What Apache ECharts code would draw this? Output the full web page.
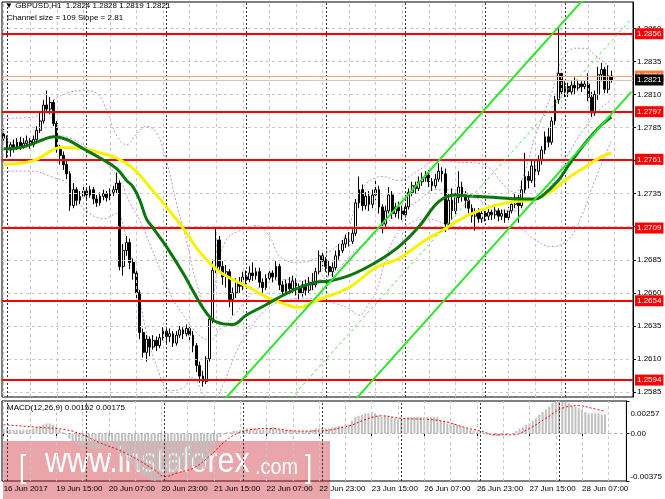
<!DOCTYPE html>
<html><head><meta charset="utf-8">
<script src="https://cdn.jsdelivr.net/npm/echarts@6/dist/echarts.min.js"></script>
<style>html,body{margin:0;padding:0;background:#fff}#c{width:665px;height:499px}</style>
</head><body><div id="c"></div>
<script>
// ---------- DATA ----------
const tickLabels = ['16 Jun 2017','19 Jun 15:00','20 Jun 07:00','20 Jun 23:00','21 Jun 15:00','22 Jun 07:00','22 Jun 23:00','23 Jun 15:00','26 Jun 07:00','26 Jun 23:00','27 Jun 15:00','28 Jun 07:00'];
const barsPerLabel = 16;
const daySeparators = [1,25,49,73,97,121,145,169];
const priceTicks = [1.2585,1.2610,1.2635,1.2660,1.2685,1.2710,1.2735,1.2760,1.2785,1.2810,1.2835,1.2860];
const levels = [1.2856,1.2797,1.2761,1.2709,1.2654,1.2594];
const askPrice = 1.2824, bidPrice = 1.2821;
const macdTicks = [0.00257, 0, -0.00375];
const macdTickLabels = ['0.00257','0.00','-0.00375'];

const opens = [
1.2780,1.2777,1.2768,1.2772,1.2770,1.2774,1.2771,1.2773,1.2775,1.2772,
1.2776,1.2783,1.2790,1.2802,1.2799,1.2804,1.2788,1.2769,1.2764,1.2757,
1.2750,1.2726,1.2738,1.2730,1.2733,1.2737,1.2734,1.2738,1.2731,1.2728,
1.2733,1.2735,1.2732,1.2736,1.2738,1.2743,1.2680,1.2692,1.2698,1.2683,
1.2675,1.2660,1.2630,1.2615,1.2625,1.2619,1.2624,1.2620,1.2626,1.2631,
1.2627,1.2629,1.2622,1.2628,1.2632,1.2629,1.2633,1.2628,1.2620,1.2605,
1.2597,1.2593,1.2610,1.2640,1.2677,1.2700,1.2680,1.2672,1.2676,1.2655,
1.2660,1.2668,1.2665,1.2672,1.2670,1.2675,1.2673,1.2676,1.2668,1.2664,
1.2671,1.2675,1.2672,1.2680,1.2666,1.2661,1.2667,1.2663,1.2669,1.2664,
1.2660,1.2666,1.2662,1.2668,1.2666,1.2676,1.2688,1.2684,1.2680,1.2676,
1.2679,1.2688,1.2692,1.2697,1.2701,1.2699,1.2705,1.2728,1.2738,1.2726,
1.2733,1.2727,1.2734,1.2738,1.2725,1.2712,1.2722,1.2734,1.2720,1.2725,
1.2722,1.2719,1.2725,1.2736,1.2741,1.2739,1.2744,1.2747,1.2749,1.2744,
1.2741,1.2746,1.2752,1.2750,1.2712,1.2730,1.2722,1.2732,1.2740,1.2733,
1.2730,1.2724,1.2718,1.2721,1.2716,1.2720,1.2718,1.2721,1.2719,1.2722,
1.2718,1.2720,1.2717,1.2722,1.2727,1.2732,1.2726,1.2738,1.2748,1.2745,
1.2756,1.2752,1.2760,1.2768,1.2778,1.2774,1.2790,1.2806,1.2826,1.2812,
1.2816,1.2812,1.2817,1.2815,1.2818,1.2816,1.2818,1.2808,1.2796,1.2810,
1.2825,1.2829,1.2814,1.2824];
const closes = [
1.2777,1.2768,1.2772,1.2770,1.2774,1.2771,1.2773,1.2775,1.2772,1.2776,
1.2783,1.2790,1.2802,1.2799,1.2804,1.2788,1.2769,1.2764,1.2757,1.2750,
1.2726,1.2738,1.2730,1.2733,1.2737,1.2734,1.2738,1.2731,1.2728,1.2733,
1.2735,1.2732,1.2736,1.2738,1.2743,1.2680,1.2692,1.2698,1.2683,1.2675,
1.2660,1.2630,1.2615,1.2625,1.2619,1.2624,1.2620,1.2626,1.2631,1.2627,
1.2629,1.2622,1.2628,1.2632,1.2629,1.2633,1.2628,1.2620,1.2605,1.2597,
1.2593,1.2610,1.2640,1.2677,1.2700,1.2680,1.2672,1.2676,1.2655,1.2660,
1.2668,1.2665,1.2672,1.2670,1.2675,1.2673,1.2676,1.2668,1.2664,1.2671,
1.2675,1.2672,1.2680,1.2666,1.2661,1.2667,1.2663,1.2669,1.2664,1.2660,
1.2666,1.2662,1.2668,1.2666,1.2676,1.2688,1.2684,1.2680,1.2676,1.2679,
1.2688,1.2692,1.2697,1.2701,1.2699,1.2705,1.2728,1.2738,1.2726,1.2733,
1.2727,1.2734,1.2738,1.2725,1.2712,1.2722,1.2734,1.2720,1.2725,1.2722,
1.2719,1.2725,1.2736,1.2741,1.2739,1.2744,1.2747,1.2749,1.2744,1.2741,
1.2746,1.2752,1.2750,1.2712,1.2730,1.2722,1.2732,1.2740,1.2733,1.2730,
1.2724,1.2718,1.2721,1.2716,1.2720,1.2718,1.2721,1.2719,1.2722,1.2718,
1.2720,1.2717,1.2722,1.2727,1.2732,1.2726,1.2738,1.2748,1.2745,1.2756,
1.2752,1.2760,1.2768,1.2778,1.2774,1.2790,1.2806,1.2826,1.2812,1.2816,
1.2812,1.2817,1.2815,1.2818,1.2816,1.2818,1.2808,1.2796,1.2810,1.2825,
1.2829,1.2814,1.2824,1.2821];
const lows = [
1.2775,1.2762,1.2763,1.2766,1.2768,1.2768,1.2769,1.2770,1.2769,1.2770,
1.2774,1.2781,1.2788,1.2796,1.2795,1.2786,1.2766,1.2757,1.2753,1.2746,
1.2722,1.2724,1.2726,1.2727,1.2731,1.2730,1.2732,1.2727,1.2725,1.2726,
1.2730,1.2729,1.2730,1.2733,1.2735,1.2677,1.2673,1.2688,1.2678,1.2670,
1.2655,1.2625,1.2611,1.2608,1.2612,1.2617,1.2616,1.2618,1.2624,1.2622,
1.2623,1.2619,1.2620,1.2626,1.2625,1.2627,1.2624,1.2615,1.2600,1.2592,
1.2589,1.2591,1.2608,1.2637,1.2675,1.2676,1.2666,1.2664,1.2649,1.2643,
1.2656,1.2660,1.2662,1.2666,1.2668,1.2669,1.2670,1.2664,1.2660,1.2662,
1.2668,1.2668,1.2670,1.2662,1.2657,1.2659,1.2659,1.2660,1.2658,1.2655,
1.2657,1.2658,1.2659,1.2662,1.2664,1.2674,1.2680,1.2676,1.2673,1.2672,
1.2677,1.2685,1.2690,1.2694,1.2695,1.2697,1.2703,1.2724,1.2722,1.2723,
1.2722,1.2724,1.2730,1.2720,1.2705,1.2710,1.2720,1.2716,1.2717,1.2716,
1.2715,1.2717,1.2723,1.2733,1.2735,1.2737,1.2741,1.2744,1.2740,1.2737,
1.2739,1.2744,1.2744,1.2706,1.2708,1.2715,1.2718,1.2728,1.2729,1.2724,
1.2720,1.2713,1.2707,1.2713,1.2713,1.2714,1.2715,1.2715,1.2716,1.2714,
1.2715,1.2713,1.2715,1.2720,1.2724,1.2713,1.2724,1.2735,1.2739,1.2743,
1.2740,1.2749,1.2757,1.2765,1.2770,1.2772,1.2787,1.2803,1.2808,1.2808,
1.2808,1.2810,1.2810,1.2813,1.2812,1.2814,1.2805,1.2793,1.2794,1.2806,
1.2820,1.2811,1.2811,1.2819];
const highs = [
1.2784,1.2779,1.2774,1.2776,1.2777,1.2778,1.2777,1.2779,1.2777,1.2779,
1.2786,1.2796,1.2806,1.2813,1.2808,1.2806,1.2790,1.2772,1.2767,1.2760,
1.2752,1.2743,1.2740,1.2737,1.2740,1.2739,1.2741,1.2740,1.2734,1.2736,
1.2738,1.2737,1.2739,1.2741,1.2751,1.2745,1.2697,1.2703,1.2701,1.2686,
1.2678,1.2662,1.2633,1.2628,1.2627,1.2628,1.2627,1.2629,1.2634,1.2634,
1.2633,1.2631,1.2631,1.2635,1.2634,1.2636,1.2635,1.2631,1.2622,1.2608,
1.2601,1.2612,1.2643,1.2685,1.2709,1.2703,1.2684,1.2681,1.2678,1.2664,
1.2671,1.2672,1.2676,1.2677,1.2680,1.2683,1.2679,1.2679,1.2671,1.2674,
1.2678,1.2677,1.2684,1.2682,1.2669,1.2670,1.2672,1.2673,1.2671,1.2667,
1.2669,1.2670,1.2672,1.2675,1.2679,1.2692,1.2691,1.2687,1.2684,1.2683,
1.2692,1.2697,1.2700,1.2704,1.2706,1.2708,1.2731,1.2748,1.2742,1.2736,
1.2737,1.2738,1.2745,1.2741,1.2727,1.2726,1.2740,1.2737,1.2728,1.2729,
1.2726,1.2728,1.2739,1.2744,1.2744,1.2748,1.2751,1.2752,1.2753,1.2747,
1.2750,1.2758,1.2755,1.2754,1.2735,1.2739,1.2736,1.2752,1.2744,1.2737,
1.2733,1.2727,1.2724,1.2724,1.2723,1.2722,1.2724,1.2723,1.2725,1.2724,
1.2723,1.2723,1.2725,1.2729,1.2735,1.2734,1.2745,1.2766,1.2752,1.2760,
1.2761,1.2764,1.2771,1.2782,1.2785,1.2793,1.2809,1.2860,1.2829,1.2820,
1.2819,1.2820,1.2823,1.2821,1.2820,1.2821,1.2826,1.2812,1.2813,1.2831,
1.2834,1.2831,1.2832,1.2828];

// moving averages and bands: [bar index, price]
const maGreen = [[0,1.2769],[5,1.2770],[9,1.2773],[12,1.2776],[15,1.2778],[19,1.2776],[24,1.2769],[29,1.2762],[34,1.2754],[37,1.2745],[39,1.2740],[41,1.2730],[43,1.2716],[45,1.2709],[49,1.2695],[54,1.2675],[58,1.2657],[61,1.2645],[64,1.2638],[69,1.2636],[73,1.2643],[79,1.2651],[84,1.2658],[89,1.2664],[94,1.2668],[98,1.2669],[104,1.2673],[112,1.2683],[119,1.2695],[125,1.2710],[131,1.2729],[136,1.2734],[141,1.2733],[149,1.2732],[155,1.2731],[160,1.2731],[162,1.2733],[167,1.2745],[170,1.2756],[175,1.2773],[180,1.2787],[183,1.2793]];
const maYellow = [[0,1.2757],[9,1.2760],[14,1.2767],[17,1.2770],[24,1.2769],[29,1.2766],[34,1.2762],[39,1.2754],[44,1.2740],[49,1.2725],[54,1.2709],[59,1.2691],[64,1.2678],[69,1.2670],[74,1.2664],[79,1.2657],[84,1.2652],[89,1.2649],[94,1.2654],[104,1.2664],[112,1.2679],[119,1.2686],[127,1.2700],[132,1.2707],[137,1.2715],[143,1.2722],[151,1.2728],[160,1.2731],[165,1.2737],[170,1.2747],[175,1.2755],[180,1.2763],[183,1.2766]];
const bbUpper = [[0,1.2792],[9,1.2793],[14,1.2804],[19,1.2811],[24,1.2813],[28,1.2811],[31,1.2798],[34,1.2779],[37,1.2772],[40,1.2780],[43,1.2786],[46,1.2781],[49,1.2760],[52,1.2728],[55,1.2700],[58,1.2668],[62,1.2640],[64,1.2672],[67,1.2700],[72,1.2708],[76,1.2711],[80,1.2703],[83,1.2688],[88,1.2683],[95,1.2687],[102,1.2700],[106,1.2725],[109,1.2742],[114,1.2748],[119,1.2745],[124,1.2751],[131,1.2761],[136,1.2759],[143,1.2758],[147,1.2753],[150,1.2743],[154,1.2736],[157,1.2752],[160,1.2778],[165,1.2811],[168,1.2836],[172,1.2845],[175,1.2845],[178,1.2840],[183,1.2830]];
const bbMiddle = [[0,1.2774],[10,1.2774],[16,1.2779],[21,1.2776],[26,1.2768],[30,1.2760],[35,1.2745],[38,1.2728],[41,1.2715],[44,1.2697],[48,1.2672],[51,1.2655],[55,1.2640],[58,1.2630],[62,1.2624],[65,1.2632],[70,1.2645],[75,1.2660],[80,1.2668],[85,1.2670],[90,1.2669],[95,1.2670],[100,1.2676],[105,1.2690],[110,1.2700],[115,1.2712],[120,1.2722],[125,1.2730],[130,1.2738],[135,1.2738],[140,1.2735],[145,1.2728],[150,1.2722],[155,1.2722],[160,1.2730],[165,1.2742],[170,1.2765],[175,1.2785],[180,1.2800],[183,1.2806]];
const bbLower = [[0,1.2752],[9,1.2752],[14,1.2748],[19,1.2743],[22,1.2730],[26,1.2720],[30,1.2716],[34,1.2720],[37,1.2700],[40,1.2668],[43,1.2630],[46,1.2605],[50,1.2586],[54,1.2588],[57,1.2596],[60,1.2584],[63,1.2578],[66,1.2590],[70,1.2615],[74,1.2632],[78,1.2645],[82,1.2652],[86,1.2655],[90,1.2656],[95,1.2655],[100,1.2652],[104,1.2648],[107,1.2643],[110,1.2652],[112,1.2660],[115,1.2685],[118,1.2703],[122,1.2712],[127,1.2716],[133,1.2712],[136,1.2708],[143,1.2708],[150,1.2710],[155,1.2709],[160,1.2700],[165,1.2695],[170,1.2700],[174,1.2718],[178,1.2745],[183,1.2775]];
// regression channel end points [bar index, price]
const channelUpper = [[60,1.25612],[189,1.29224]];
const channelMiddle = [[60,1.25060],[189,1.28672]];
const channelLower = [[60,1.24508],[189,1.28120]];

// MACD(12,26,9)
const macdMain = [
0.0004,0.0004,0.0003,0.0003,0.0003,0.0003,0.0003,0.0003,0.0003,0.0004,
0.0005,0.0006,0.0007,0.0008,0.0008,0.0007,0.0005,0.0003,0.0001,-0.0001,
-0.0004,-0.0006,-0.0008,-0.0009,-0.0010,-0.0011,-0.0011,-0.0012,-0.0012,-0.0012,
-0.0012,-0.0012,-0.0011,-0.0011,-0.0010,-0.0015,-0.0018,-0.0020,-0.0022,-0.0024,
-0.0026,-0.0029,-0.0032,-0.0034,-0.0036,-0.0037,-0.00375,-0.0037,-0.0036,-0.0035,
-0.0033,-0.0032,-0.0030,-0.0029,-0.0027,-0.0026,-0.0025,-0.0025,-0.0026,-0.0028,
-0.0029,-0.0028,-0.0024,-0.0017,-0.0010,-0.0006,-0.0003,-0.0001,0.0001,0.0001,
0.0002,0.0002,0.0003,0.0003,0.0004,0.0004,0.0004,0.0004,0.0003,0.0003,
0.0004,0.0004,0.0005,0.0004,0.0003,0.0003,0.0003,0.0003,0.0003,0.0002,
0.0002,0.0002,0.0002,0.0002,0.0003,0.0004,0.0004,0.0004,0.0004,0.0004,
0.0005,0.0005,0.0006,0.0006,0.0007,0.0007,0.0010,0.0013,0.0014,0.0015,
0.0016,0.0016,0.0017,0.0016,0.0014,0.0013,0.0014,0.0013,0.0013,0.0012,
0.0011,0.0011,0.0012,0.0013,0.0013,0.0013,0.0013,0.0013,0.0013,0.0013,
0.0013,0.0013,0.0013,0.0010,0.0009,0.0008,0.0008,0.0008,0.0007,0.0006,
0.0005,0.0004,0.0003,0.0002,0.0001,0.0001,0.0000,-0.0001,-0.0001,-0.0002,
-0.0002,-0.0002,-0.0001,-0.0001,0.0000,0.0000,0.0002,0.0004,0.0005,0.0007,
0.0008,0.0010,0.0012,0.0015,0.0017,0.0019,0.0021,0.0024,0.0025,0.00257,
0.0025,0.0025,0.0024,0.0022,0.0021,0.0020,0.0019,0.0017,0.0016,0.0016,
0.0016,0.0016,0.0015,0.00152];
const macdSignal = [[0,0.0007],[10,0.0005],[19,0.0003],[24,-0.0001],[29,-0.0007],[35,-0.0013],[41,-0.0021],[46,-0.0029],[49,-0.0034],[53,-0.0031],[58,-0.0027],[63,-0.0017],[67,-0.0007],[71,0.0000],[75,0.0003],[81,0.0004],[89,0.0002],[95,0.0002],[105,0.0006],[110,0.0011],[115,0.0014],[121,0.0012],[130,0.0011],[135,0.0009],[140,0.0005],[145,0.0002],[150,-0.0001],[155,-0.0001],[160,0.0004],[165,0.0012],[170,0.0020],[175,0.0022],[179,0.0020],[183,0.00175]];

// ---------- LAYOUT ----------
const slotCount = 190;
const slots = Array.from({length: slotCount}, (_, i) => i);
const gridBars = slots.filter(i => i % 8 === 0);
const FONT = '"Liberation Sans", Arial, sans-serif';

const candleData = opens.map((o, i) => [o, closes[i], lows[i], highs[i]]);
const labelShown = (i) => i % barsPerLabel === 0 && i / barsPerLabel < tickLabels.length;

const chart = echarts.init(document.getElementById('c'), null, {renderer: 'canvas'});
const vGrid = gridBars.map(i => ({xAxis: i, lineStyle: {color: '#c8c8c8', type: [3, 3], width: 1}}))
  .concat(daySeparators.map(i => ({xAxis: i, lineStyle: {color: '#333', type: [2, 2], width: 1}})));

const redLabel = (bg, fg) => ({
  show: true, position: 'end', distance: 2, formatter: p => Number(p.value).toFixed(4),
  backgroundColor: bg, color: fg, fontSize: 8, fontFamily: FONT, padding: [2, 2, 1, 2]
});

const option = {
  animation: false,
  backgroundColor: '#ffffff',
  textStyle: {fontFamily: FONT},
  grid: [
    {left: 2, top: 2, width: 631, height: 395, show: true, borderColor: '#000', borderWidth: 1, backgroundColor: '#fff'},
    {left: 2, top: 401, width: 631, height: 80, show: true, borderColor: '#000', borderWidth: 1, backgroundColor: '#fff'}
  ],
  xAxis: [
    {type: 'category', gridIndex: 0, data: slots, boundaryGap: true,
     axisLine: {show: false}, axisTick: {show: false}, axisLabel: {show: false}, splitLine: {show: false}},
    {type: 'category', gridIndex: 1, data: slots, boundaryGap: true,
     axisLine: {show: false},
     axisTick: {show: true, alignWithLabel: true, interval: labelShown, length: 3, lineStyle: {color: '#000'}},
     axisLabel: {show: true, interval: labelShown, align: 'left', margin: 4, fontSize: 8, color: '#000', fontFamily: FONT,
       formatter: (v, i) => tickLabels[Math.round(i / barsPerLabel)] || ''},
     splitLine: {show: false}}
  ],
  yAxis: [
    {type: 'value', gridIndex: 0, position: 'right', min: 1.25812, max: 1.28800, scale: true,
     axisLine: {show: true, lineStyle: {color: '#000'}},
     axisTick: {show: true, customValues: priceTicks, length: 3, lineStyle: {color: '#000'}},
     axisLabel: {customValues: priceTicks, formatter: v => v.toFixed(4), fontSize: 8, color: '#000', margin: 4, fontFamily: FONT},
     splitLine: {show: false}},
    {type: 'value', gridIndex: 1, position: 'right', min: -0.00375, max: 0.00257,
     axisLine: {show: true, lineStyle: {color: '#000'}},
     axisTick: {show: true, customValues: macdTicks, length: 3, lineStyle: {color: '#000'}},
     axisLabel: {customValues: macdTicks, fontSize: 8, color: '#000', margin: 4, fontFamily: FONT,
       formatter: v => {
         const k = macdTicks.findIndex(t => Math.abs(t - v) < 1e-9);
         const s = k >= 0 ? macdTickLabels[k] : '';
         if (k === 0) return '{top|' + s + '}';
         if (k === 2) return '{bot|' + s + '}';
         return s;
       },
       rich: {top: {padding: [26, 0, 0, 0], fontSize: 8}, bot: {padding: [0, 0, 8, 0], fontSize: 8}}},
     splitLine: {show: false}}
  ],
  series: [
    // grid lines (main)
    {type: 'line', xAxisIndex: 0, yAxisIndex: 0, data: [], z: 1, silent: true,
     markLine: {silent: true, precision: 6, symbol: ['none', 'none'], label: {show: false},
       data: priceTicks.map(v => ({yAxis: v, lineStyle: {color: '#c8c8c8', type: [3, 3], width: 1}})).concat(vGrid)}},
    // grid lines (macd)
    {type: 'line', xAxisIndex: 1, yAxisIndex: 1, data: [], z: 1, silent: true,
     markLine: {silent: true, precision: 6, symbol: ['none', 'none'], label: {show: false},
       data: [{yAxis: 0, lineStyle: {color: '#b0b0b0', type: [3, 3], width: 1}}].concat(vGrid)}},
    // support / resistance levels and bid/ask
    {type: 'line', xAxisIndex: 0, yAxisIndex: 0, data: [], z: 2, silent: true,
     markLine: {silent: true, precision: 6, symbol: ['none', 'none'],
       data: [
         {yAxis: askPrice, lineStyle: {color: '#ffa27a', width: 1, type: 'solid'}, label: redLabel('#ff7a3c', '#fff')},
         {yAxis: bidPrice, lineStyle: {color: '#c8c8c8', width: 1, type: 'solid'}, label: redLabel('#000', '#fff')}
       ].concat(levels.map(v => ({yAxis: v, lineStyle: {color: '#ff0000', width: 2, type: 'solid'}, label: redLabel('#ff0000', '#fff')})))}},
    // Bollinger bands
    {type: 'line', xAxisIndex: 0, yAxisIndex: 0, data: bbUpper, smooth: 0.4, showSymbol: false, z: 3,
     lineStyle: {color: '#c58de8', width: 1, type: [2, 2]}},
    {type: 'line', xAxisIndex: 0, yAxisIndex: 0, data: bbMiddle, smooth: 0.4, showSymbol: false, z: 3,
     lineStyle: {color: '#c58de8', width: 1, type: [2, 2]}},
    {type: 'line', xAxisIndex: 0, yAxisIndex: 0, data: bbLower, smooth: 0.4, showSymbol: false, z: 3,
     lineStyle: {color: '#c58de8', width: 1, type: [2, 2]}},
    // candles
    {type: 'candlestick', xAxisIndex: 0, yAxisIndex: 0, data: candleData, barWidth: '70%', z: 4,
     itemStyle: {color: '#ffffff', color0: '#000000', borderColor: '#000000', borderColor0: '#000000', borderWidth: 1}},
    // moving averages
    {type: 'line', xAxisIndex: 0, yAxisIndex: 0, data: maYellow, smooth: 0.4, showSymbol: false, z: 5,
     lineStyle: {color: '#f7f300', width: 3}},
    {type: 'line', xAxisIndex: 0, yAxisIndex: 0, data: maGreen, smooth: 0.4, showSymbol: false, z: 6,
     lineStyle: {color: '#0b760b', width: 3}},
    // regression channel
    {type: 'line', xAxisIndex: 0, yAxisIndex: 0, data: channelUpper, showSymbol: false, z: 7,
     lineStyle: {color: '#2ee62e', width: 2}},
    {type: 'line', xAxisIndex: 0, yAxisIndex: 0, data: channelLower, showSymbol: false, z: 7,
     lineStyle: {color: '#2ee62e', width: 2}},
    {type: 'line', xAxisIndex: 0, yAxisIndex: 0, data: channelMiddle, showSymbol: false, z: 7,
     lineStyle: {color: '#55e655', width: 1, type: [3, 3]}},
    // MACD
    {type: 'bar', xAxisIndex: 1, yAxisIndex: 1, data: macdMain, barWidth: '62%', z: 3,
     itemStyle: {color: '#c0c0c0'}},
    {type: 'line', xAxisIndex: 1, yAxisIndex: 1, data: macdSignal, smooth: 0.4, showSymbol: false, z: 4,
     lineStyle: {color: '#ff0000', width: 1, type: [2, 2]}}
  ],
  graphic: [
    {type: 'text', left: 5, top: 2, z: 50, style: {text: '\u25BC GBPUSD,H1  1.2824 1.2828 1.2819 1.2821', fill: '#000', font: '8px ' + FONT}},
    {type: 'text', left: 7, top: 14, z: 50, style: {text: 'Channel size = 109 Slope = 2.81', fill: '#000', font: '8px ' + FONT}},
    {type: 'text', left: 7, top: 404, z: 50, style: {text: 'MACD(12,26,9) 0.00152 0.00175', fill: '#000', font: '8px ' + FONT}},
    {type: 'group', z: 100, children: [
      {type: 'rect', shape: {x: 3, y: 441, width: 327, height: 58}, style: {fill: 'rgba(200,30,40,0.40)'}},
      {type: 'text', x: 19, y: 484, scaleX: 0.8, style: {text: '[', fill: '#fff', font: '32px ' + FONT, verticalAlign: 'bottom'}},
      {type: 'text', x: 45, y: 480, scaleX: 0.87, style: {text: 'www.instaforex', fill: '#fff', font: '35px ' + FONT, verticalAlign: 'bottom'}},
      {type: 'text', x: 255, y: 479, scaleX: 0.9, style: {text: '.com', fill: '#fff', font: '22px ' + FONT, verticalAlign: 'bottom'}},
      {type: 'text', x: 305, y: 484, scaleX: 0.8, style: {text: ']', fill: '#fff', font: '32px ' + FONT, verticalAlign: 'bottom'}}
    ]}
  ]
};
chart.setOption(option);
</script></body></html>
